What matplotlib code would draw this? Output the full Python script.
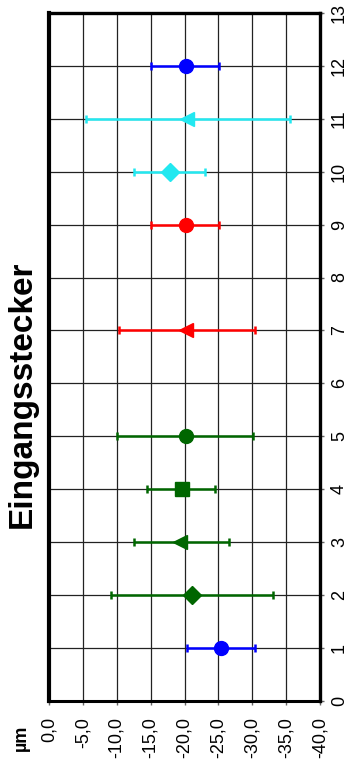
import matplotlib
matplotlib.use("Agg")
import matplotlib.pyplot as plt
import numpy as np

plt.rcParams['font.family'] = ['Liberation Sans', 'DejaVu Sans']

# Measurement positions and deviations (µm)
positions = [1, 2, 3, 4, 5, 7, 9, 10, 11, 12]
mean_um = [-25.4, -21.1, -19.3, -19.6, -20.2, -20.2, -20.2, -17.8, -20.3, -20.2]
range_low = [-20.4, -9.1, -12.0, -14.7, -10.3, -10.0, -15.3, -12.6, -5.0, -15.3]
range_high = [-30.5, -33.1, -26.1, -24.7, -30.4, -30.1, -25.3, -23.1, -35.1, -25.4]
markers = ['o', 'D', '<', 's', 'o', '<', 'o', 'D', '<', 'o']
colors = ['#0000FF', '#006600', '#006600', '#006600', '#006600',
          '#FF0000', '#FF0000', '#22E8F0', '#22E8F0', '#0000FF']
marker_sizes = [10, 9, 10, 10, 10, 10, 10, 9, 10, 10]

value_ticks = np.arange(0, -41, -5)
position_ticks = np.arange(0, 14, 1)

fig = plt.figure(figsize=(3.47, 7.65), dpi=100)
ax = fig.add_axes([49 / 347, 64.3 / 765, 271 / 347, 687.7 / 765])

for p, m, lo, hi, mk, c, ms in zip(positions, mean_um, range_low, range_high,
                                     markers, colors, marker_sizes):
    xerr = [[abs(m - lo)], [abs(hi - m)]]
    ax.errorbar([m], [p], xerr=xerr, fmt=mk, color=c, ecolor=c,
                markersize=ms, elinewidth=1.8, capsize=2.6, capthick=1.8,
                zorder=3)

ax.set_xlim(0, -40)
ax.set_ylim(0, 13)
ax.set_xticks(value_ticks)
ax.set_xticklabels([f"{v:.1f}".replace('.', ',') for v in value_ticks],
                   rotation=90, fontsize=13)
ax.set_yticks(position_ticks)
ax.set_yticklabels([str(v) for v in position_ticks], rotation=90,
                   fontsize=13, va='center')
ax.yaxis.tick_right()
ax.tick_params(axis='x', length=3, width=1, pad=9, color='#666666')
ax.tick_params(axis='y', length=3, width=1, pad=5, color='#666666')

ax.grid(True, color='#222222', linewidth=0.9, zorder=0)
ax.set_axisbelow(True)

for side, lw in [('left', 3.0), ('top', 2.4), ('right', 2.4), ('bottom', 2.2)]:
    ax.spines[side].set_linewidth(lw)
    ax.spines[side].set_color('black')

fig.text(22 / 347, 1 - 394 / 765, 'Eingangsstecker', rotation=90,
         fontsize=24, fontweight='bold', ha='center', va='center')
fig.text(21 / 347, 1 - 738 / 765, 'µm', rotation=90,
         fontsize=13, fontweight='bold', ha='center', va='center')

fig.savefig('out.png', dpi=100)
